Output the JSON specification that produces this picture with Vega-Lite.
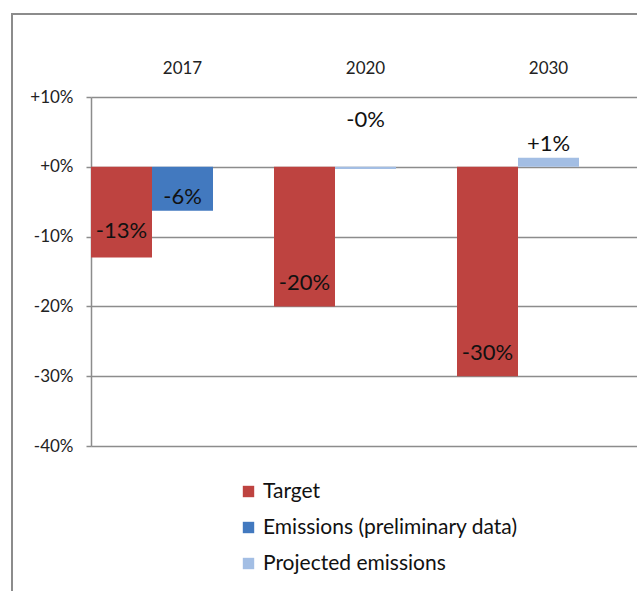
{
  "$schema": "https://vega.github.io/schema/vega-lite/v6.json",
  "width": 628,
  "height": 580,
  "autosize": {"type": "none"},
  "padding": {"left": 12, "top": 14, "right": -3, "bottom": -3},
  "background": "white",
  "config": {
    "font": "Lato",
    "view": {"stroke": "#8c8c8c", "strokeWidth": 2}
  },
  "data": {
    "values": [
      {"year": "2017", "series": "Target", "kind": "Target", "value": -0.13, "label": "-13%"},
      {"year": "2017", "series": "Emissions (preliminary data)", "kind": "Emissions", "value": -0.063, "label": "-6%"},
      {"year": "2020", "series": "Target", "kind": "Target", "value": -0.2, "label": "-20%"},
      {"year": "2020", "series": "Projected emissions", "kind": "Emissions", "value": -0.003, "label": "-0%"},
      {"year": "2030", "series": "Target", "kind": "Target", "value": -0.3, "label": "-30%"},
      {"year": "2030", "series": "Projected emissions", "kind": "Emissions", "value": 0.013, "label": "+1%"}
    ]
  },
  "encoding": {
    "x": {
      "field": "year",
      "type": "nominal",
      "scale": {"domain": ["2017", "2020", "2030"], "range": [79, 628], "paddingInner": 0, "paddingOuter": 0},
      "axis": {
        "orient": "top",
        "offset": -54,
        "title": null,
        "ticks": false,
        "tickSize": 0,
        "domain": false,
        "grid": false,
        "labelPadding": 0,
        "labelBaseline": "middle",
        "labelAngle": 0,
        "labelFontSize": 17,
        "labelColor": "#222222"
      }
    },
    "xOffset": {
      "field": "kind",
      "type": "nominal",
      "scale": {"domain": ["Target", "Emissions"], "range": [0, 122], "paddingInner": 0, "paddingOuter": 0}
    },
    "y": {
      "field": "value",
      "type": "quantitative",
      "scale": {"domain": [-0.4, 0.1], "range": [432, 83], "nice": false},
      "axis": {
        "orient": "left",
        "offset": -79,
        "title": null,
        "values": [-0.4, -0.3, -0.2, -0.1, 0, 0.1],
        "labelExpr": "(datum.value < -0.0001 ? '-' : '+') + format(abs(datum.value), '.0%')",
        "grid": true,
        "gridColor": "#8c8c8c",
        "gridWidth": 1.5,
        "domainColor": "#8c8c8c",
        "domainWidth": 1.5,
        "tickColor": "#8c8c8c",
        "tickWidth": 1.5,
        "tickSize": 5,
        "labelPadding": 13,
        "labelFontSize": 17,
        "labelColor": "#222222"
      }
    }
  },
  "layer": [
    {
      "mark": {"type": "bar"},
      "encoding": {
        "y2": {"datum": 0},
        "color": {
          "field": "series",
          "type": "nominal",
          "scale": {
            "domain": ["Target", "Emissions (preliminary data)", "Projected emissions"],
            "range": ["#BE4340", "#4279BF", "#A3BEE4"]
          },
          "legend": {
            "title": null,
            "orient": "none",
            "legendX": 226,
            "legendY": 467,
            "direction": "vertical",
            "symbolType": "square",
            "symbolSize": 130,
            "symbolStrokeWidth": 0,
            "labelFontSize": 21,
            "labelColor": "#111111",
            "labelOffset": 4,
            "labelLimit": 0,
            "rowPadding": 14,
            "padding": 0
          }
        }
      }
    },
    {
      "mark": {
        "type": "text",
        "fontSize": 22,
        "color": "#111111",
        "baseline": "middle",
        "dy": {"expr": "datum.series === 'Target' ? (datum.value > -0.15 ? -27 : -23) : ((datum.value < 0 && datum.series === 'Projected emissions') ? -49 : -14)"}
      },
      "encoding": {
        "text": {"field": "label", "type": "nominal"}
      }
    }
  ]
}
